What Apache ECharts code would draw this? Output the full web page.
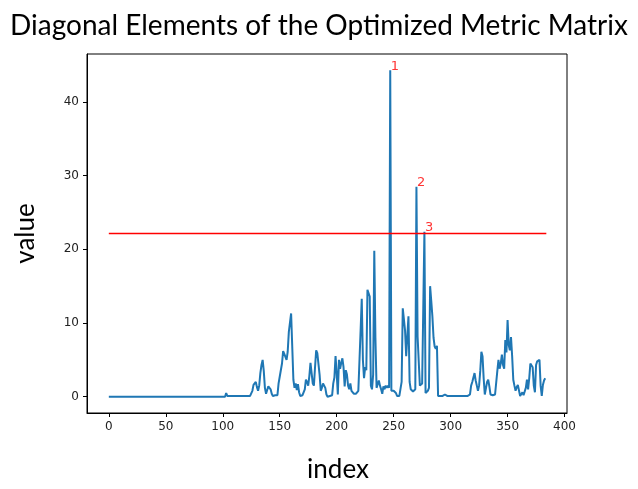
<!DOCTYPE html>
<html>
<head>
<meta charset="utf-8">
<title>Diagonal Elements of the Optimized Metric Matrix</title>
<script type="text/javascript" src="https://cdn.jsdelivr.net/npm/echarts@6.0.0/dist/echarts.min.js"></script>
<style>
    html, body { margin: 0; padding: 0; background: #fff; }
    #main { width: 638px; height: 489px; }
</style>
</head>
<body>
<div id="main"></div>
<script type="text/javascript">
    // diagonal of the learned metric, index 0..383
    var diagValues = [
        0, 0, 0, 0, 0, 0, 0, 0, 0, 0, 0, 0, 0, 0, 0, 0,
        0, 0, 0, 0, 0, 0, 0, 0, 0, 0, 0, 0, 0, 0, 0, 0,
        0, 0, 0, 0, 0, 0, 0, 0, 0, 0, 0, 0, 0, 0, 0, 0,
        0, 0, 0, 0, 0, 0, 0, 0, 0, 0, 0, 0, 0, 0, 0, 0,
        0, 0, 0, 0, 0, 0, 0, 0, 0, 0, 0, 0, 0, 0, 0, 0,
        0, 0, 0, 0, 0, 0, 0, 0, 0, 0, 0, 0, 0, 0, 0, 0,
        0, 0, 0, 0, 0, 0, 0, 0.5, 0.1, 0.1, 0.1, 0.1, 0.1, 0.1, 0.1, 0.1,
        0.1, 0.1, 0.1, 0.1, 0.1, 0.1, 0.1, 0.1, 0.1, 0.1, 0.1, 0.1, 0.1, 0.2, 0.8, 1.6,
        1.8, 2.0, 1.3, 0.8, 1.5, 3.2, 4.3, 5.0, 3.5, 1.2, 0.4, 0.9, 1.4, 1.5, 1.0, 0.4,
        0.1, 0.1, 0.2, 0.1, 0.2, 1.8, 2.7, 2.6, 4.5, 6.2, 5.8, 6.0, 5.0, 6.1, 8.8, 9.0,
        11.3, 11.2, 2.3, 1.2, 1.8, 0.9, 1.7, 0.6, 0.1, 0.1, 0.2, 0.1, 1.0, 2.3, 2.0, 1.5,
        2.8, 4.6, 3.2, 1.8, 1.5, 4.0, 6.3, 5.9, 5.8, 3.0, 0.8, 1.2, 1.8, 1.8, 1.2, 0.3,
        0.0, 0.1, 0.1, 0.1, 0.2, 1.8, 2.6, 5.5, 3.2, 0.3, 5.0, 3.8, 4.6, 5.2, 4.0, 1.4,
        3.6, 3.0, 1.5, 1.0, 1.8, 0.8, 0.6, 0.4, 0.3, 0.4, 0.6, 0.8, 0.7, 9.0, 13.3, 5.0,
        2.5, 4.0, 3.6, 14.5, 14.3, 13.6, 1.5, 1.0, 3.0, 19.8, 8.0, 1.2, 1.3, 2.2, 1.5, 1.0,
        0.4, 1.4, 1.0, 1.5, 1.2, 1.5, 1.2, 44.3, 0.8, 0.9, 0.8, 1.0, 0.5, 0.1, 0.0, 0.1,
        0.1, 2.0, 12.0, 12.2, 9.0, 5.5, 5.4, 10.9, 2.0, 1.0, 0.9, 0.7, 0.6, 1.0, 28.5, 8.2,
        8.1, 1.5, 1.5, 1.8, 12.0, 22.4, 0.5, 0.7, 0.8, 1.2, 15.0, 13.0, 10.9, 8.0, 6.8, 6.5,
        6.9, 0.1, 0.0, 0.1, 0.1, 0.1, 0.1, 0.3, 0.5, 0.1, 0.1, 0.1, 0.1, 0.1, 0.1, 0.1,
        0.1, 0.1, 0.1, 0.1, 0.1, 0.1, 0.1, 0.1, 0.1, 0.1, 0.1, 0.1, 0.1, 0.3, 1.5, 2.0,
        2.6, 3.2, 2.2, 1.5, 0.8, 1.5, 3.5, 6.1, 5.5, 2.5, 0.3, 0.5, 2.0, 2.3, 1.4, 0.3,
        0.2, 0.2, 0.2, 0.3, 0.5, 3.5, 5.0, 3.8, 4.5, 5.7, 4.3, 3.8, 7.7, 6.0, 10.4, 7.0,
        6.3, 8.1, 5.5, 2.3, 1.5, 0.8, 1.3, 1.6, 1.8, 0.1, 0.3, 0.6, 0.2, 0.4, 1.2, 2.3,
        1.0, 2.5, 4.5, 4.6, 4.0, 1.5, 0.6, 4.3, 4.8, 4.9, 5.0, 1.5, 0.1, 1.6, 2.2, 2.5
    ];
    var threshold = 22.15;
    var thresholdRange = [0, 384];
    var peakIndex = [247, 270, 277];
    var peakLabels = ['1', '2', '3'];
    var xTicks = [0, 50, 100, 150, 200, 250, 300, 350, 400];
    var yTicks = [0, 10, 20, 30, 40];

    var chart = echarts.init(document.getElementById('main'));

    var lineData = diagValues.map(function (v, i) { return [i, v]; });
    var thresholdData = thresholdRange.map(function (x) { return [x, threshold]; });
    var peakData = peakIndex.map(function (idx, k) {
        return {name: peakLabels[k], value: [idx, diagValues[idx]]};
    });

    var tickLabel = {fontFamily: 'DejaVu Sans', fontSize: 12, color: '#222'};

    var option = {
        animation: false,
        title: {
            text: 'Diagonal Elements of the Optimized Metric Matrix',
            left: 'center',
            top: 7,
            textStyle: {fontFamily: 'Lato', fontSize: 28, fontWeight: 'normal', color: '#000'}
        },
        grid: {
            left: 87, right: 71, top: 54, bottom: 76,
            outerBoundsMode: 'none',
            containLabel: false,
            show: true, borderColor: '#000', borderWidth: 1, backgroundColor: 'transparent'
        },
        xAxis: {
            type: 'value',
            min: -19.15,
            max: 402.15,
            name: 'index',
            nameLocation: 'middle',
            nameGap: 44,
            nameTextStyle: {fontFamily: 'Lato', fontSize: 26, color: '#000', padding: [0, 0, 0, 22]},
            splitLine: {show: false},
            axisLine: {show: true, onZero: false, lineStyle: {color: '#000', width: 1}},
            axisTick: {show: true, length: 4, customValues: xTicks, lineStyle: {color: '#000'}},
            axisLabel: Object.assign({customValues: xTicks, margin: 8}, tickLabel)
        },
        yAxis: {
            type: 'value',
            min: -2.215,
            max: 46.515,
            name: 'value',
            nameLocation: 'middle',
            nameGap: 36,
            nameRotate: 90,
            nameTextStyle: {fontFamily: 'Lato', fontSize: 26, color: '#000', padding: [0, 0, 12, 0]},
            splitLine: {show: false},
            axisLine: {show: true, onZero: false, lineStyle: {color: '#000', width: 1}},
            axisTick: {show: true, length: 4, customValues: yTicks, lineStyle: {color: '#000'}},
            axisLabel: Object.assign({customValues: yTicks, margin: 8}, tickLabel)
        },
        series: [
            {
                name: 'diag',
                type: 'line',
                data: lineData,
                smooth: false,
                showSymbol: false,
                color: '#1f77b4',
                lineStyle: {color: '#1f77b4', width: 2},
                itemStyle: {color: '#1f77b4'}
            },
            {
                name: 'threshold',
                type: 'line',
                data: thresholdData,
                smooth: false,
                showSymbol: false,
                z: 3,
                color: '#ff0000',
                lineStyle: {color: '#ff0000', width: 1.5, opacity: 1},
                itemStyle: {color: '#ff0000'}
            },
            {
                name: 'peaks',
                type: 'scatter',
                data: peakData,
                symbolSize: 1,
                itemStyle: {color: 'transparent'},
                label: {
                    show: true,
                    formatter: '{b}',
                    position: [1, 3],
                    align: 'left',
                    verticalAlign: 'bottom',
                    fontFamily: 'DejaVu Sans',
                    fontSize: 13,
                    color: '#ff0000'
                }
            }
        ]
    };
    chart.setOption(option);
</script>
</body>
</html>
